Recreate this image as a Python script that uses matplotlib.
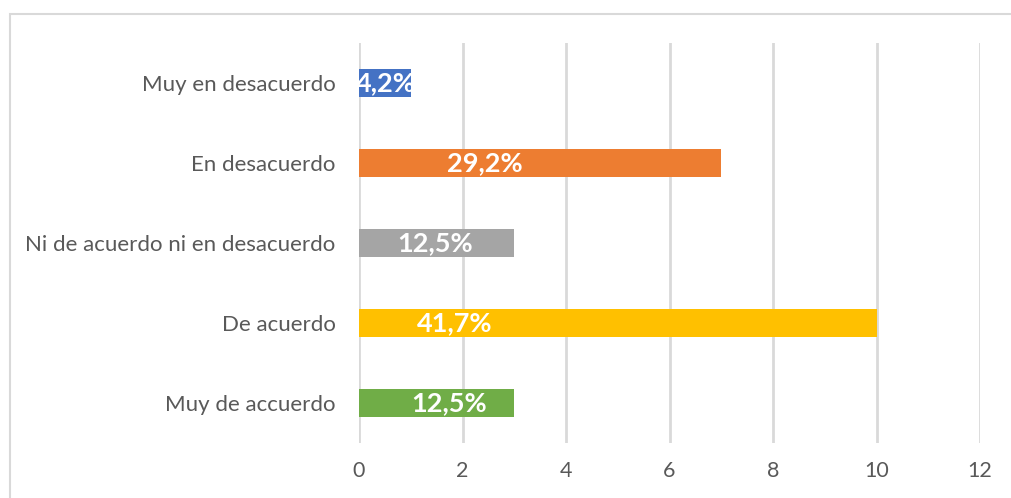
import matplotlib
matplotlib.use('Agg')
import matplotlib.pyplot as plt
from matplotlib.patches import Rectangle

categories = ['Muy de accuerdo', 'De acuerdo', 'Ni de acuerdo ni en desacuerdo',
              'En desacuerdo', 'Muy en desacuerdo']
counts = [3, 10, 3, 7, 1]
pct_labels = ['12,5%', '41,7%', '12,5%', '29,2%', '4,2%']
label_x = [1.74, 1.85, 1.48, 2.43, 0.51]
colors = ['#70AD47', '#FFC000', '#A5A5A5', '#ED7D31', '#4472C4']
xticks = [0, 2, 4, 6, 8, 10, 12]

plt.rcParams['font.family'] = ['Lato', 'DejaVu Sans']

W, H = 1011, 498
fig = plt.figure(figsize=(W / 100, H / 100), dpi=100)
ax = fig.add_axes([359 / W, 1 - 443 / H, (980 - 359) / W, 400 / H])

ypos = list(range(len(categories)))
ax.barh(ypos, counts, height=0.36, color=colors, zorder=3)
for y, x, txt in zip(ypos, label_x, pct_labels):
    ax.text(x, y, txt, ha='center', va='center', color='white',
            fontsize=19.5, fontweight='bold', zorder=4)

ax.set_xlim(0, 12)
ax.set_ylim(-0.5, len(categories) - 0.5)
ax.set_xticks(xticks)
ax.set_xticklabels([str(t) for t in xticks])
ax.set_yticks(ypos)
ax.set_yticklabels(categories)
ax.tick_params(axis='both', length=0, labelcolor='#595959')
ax.tick_params(axis='x', pad=13, labelsize=15.5)
ax.tick_params(axis='y', pad=17, labelsize=16)
ax.grid(axis='x', color='#d9d9d9', linewidth=2, zorder=0)
for s in ax.spines.values():
    s.set_visible(False)

# outer chart border
fig.patches.append(Rectangle((10 / W, -0.1), 1, 1.1 - 14 / H, transform=fig.transFigure,
                             fill=False, edgecolor='#d9d9d9', linewidth=1.5))

fig.savefig('out.png', dpi=100)
